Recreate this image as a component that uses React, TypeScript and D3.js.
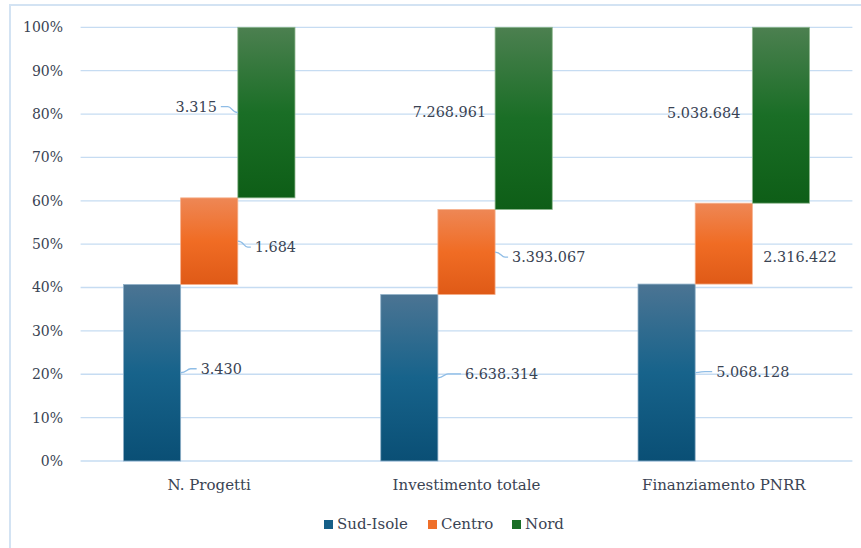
import React from "react";
import * as d3 from "d3";

const categories = ["N. Progetti", "Investimento totale", "Finanziamento PNRR"];
const seriesNames = ["Sud-Isole", "Centro", "Nord"];
const sudIsole = [3430, 6638314, 5068128];
const centro = [1684, 3393067, 2316422];
const nord = [3315, 7268961, 5038684];
const yTicks = [0, 0.1, 0.2, 0.3, 0.4, 0.5, 0.6, 0.7, 0.8, 0.9, 1];

// layout / style config
const W = 861;
const H = 548;
const M = { left: 80.6, right: 852.4, top: 27.3, bottom: 461 };
const COLORS = [
  { stops: ["#4b7493", "#17638b", "#0a4f75"], stroke: "#8fb0c8", legend: "#155f88" },
  { stops: ["#ee8755", "#f06c24", "#df5a17"], stroke: "#f5b08c", legend: "#ef6f2a" },
  { stops: ["#4c8050", "#1a6e26", "#0e5e17"], stroke: "#90b890", legend: "#1a6e26" },
];
// label nudges relative to computed anchor [dx, dy]
const LABEL_NUDGE = [
  [[20, -4], [17, 6], [-21, -6]],
  [[27, -4], [17, 5], [-9, -6]],
  [[21, -1], [11, 13], [-12, -2]],
];
const SHOW_LEADER = [
  [true, true, true],
  [true, true, false],
  [true, false, false],
];
const TEXT = "#3a4353";
const FONT = "'DejaVu Serif', serif";

const itFormat = d3.formatLocale({
  decimal: ",",
  thousands: ".",
  grouping: [3],
  currency: ["€", ""],
}).format(",");

export default function App() {
  const seriesValues = [sudIsole, centro, nord];
  const x = d3
    .scaleBand<string>()
    .domain(categories)
    .range([M.left, M.right])
    .paddingInner(1 / 3)
    .paddingOuter(1 / 6);
  const xs = d3.scaleBand<string>().domain(seriesNames).range([0, x.bandwidth()]).padding(0);
  const y = d3.scaleLinear().domain([0, 1]).range([M.bottom, M.top]);
  const pct = d3.format(".0%");

  const bars: any[] = [];
  categories.forEach((cat, ci) => {
    const total = d3.sum(seriesValues, (s) => s[ci]);
    let cum = 0;
    seriesNames.forEach((s, si) => {
      const v = seriesValues[si][ci];
      const y0 = cum / total;
      cum += v;
      const y1 = cum / total;
      bars.push({ cat, ci, s, si, v, y0, y1 });
    });
  });

  return (
    <svg
      width={W}
      height={H}
      style={{ position: "absolute", left: 0, top: 0, background: "#fff" }}
      fontFamily={FONT}
    >
      <defs>
        {COLORS.map((c, i) => (
          <linearGradient key={i} id={`g${i}`} x1="0" y1="0" x2="0" y2="1">
            <stop offset="0%" stopColor={c.stops[0]} />
            <stop offset="50%" stopColor={c.stops[1]} />
            <stop offset="100%" stopColor={c.stops[2]} />
          </linearGradient>
        ))}
      </defs>
      <rect x={10} y={5} width={880} height={580} fill="#fff" stroke="#d3e3f3" strokeWidth={2} />
      {yTicks.map((t) => (
        <g key={t}>
          <line x1={M.left} x2={M.right} y1={y(t)} y2={y(t)} stroke="#c6dcf2" strokeWidth={1.3} />
          <text x={63} y={y(t)} dy="0.35em" textAnchor="end" fontSize={14} fill={TEXT}>
            {pct(t)}
          </text>
        </g>
      ))}
      {bars.map((b) => {
        const bx = (x(b.cat) as number) + (xs(b.s) as number);
        const bw = xs.bandwidth();
        const top = y(b.y1);
        const bot = y(b.y0);
        const cy = (top + bot) / 2;
        const [dx, dy] = LABEL_NUDGE[b.ci][b.si];
        const right = b.si < 2;
        const edge = right ? bx + bw : bx;
        const lx = edge + dx;
        const ly = cy + dy;
        const leaderEnd = right ? lx - 4 : lx + 4;
        const mid = right ? edge + 6 : edge - 6;
        return (
          <g key={b.cat + b.s}>
            <rect
              x={bx}
              y={top}
              width={bw}
              height={bot - top}
              fill={`url(#g${b.si})`}
              stroke={COLORS[b.si].stroke}
              strokeWidth={0.8}
            />
            {SHOW_LEADER[b.ci][b.si] && (
              <path
                d={`M${edge},${cy} C${mid},${cy} ${mid},${ly} ${mid + (right ? 4 : -4)},${ly} L${leaderEnd},${ly}`}
                fill="none"
                stroke="#8fbde6"
                strokeWidth={1.3}
              />
            )}
            <text
              x={lx}
              y={ly}
              dy="0.35em"
              textAnchor={right ? "start" : "end"}
              fontSize={14.4}
              fill={TEXT}
            >
              {itFormat(b.v)}
            </text>
          </g>
        );
      })}
      {categories.map((c) => (
        <text
          key={c}
          x={(x(c) as number) + x.bandwidth() / 2}
          y={490}
          textAnchor="middle"
          fontSize={15}
          fill={TEXT}
        >
          {c}
        </text>
      ))}
      {seriesNames.map((s, i) => {
        const lxs = [324, 428, 512];
        return (
          <g key={s}>
            <rect x={lxs[i]} y={520} width={9} height={9} fill={COLORS[i].legend} />
            <text x={lxs[i] + 13} y={529} fontSize={15} fill={TEXT}>
              {s}
            </text>
          </g>
        );
      })}
    </svg>
  );
}
